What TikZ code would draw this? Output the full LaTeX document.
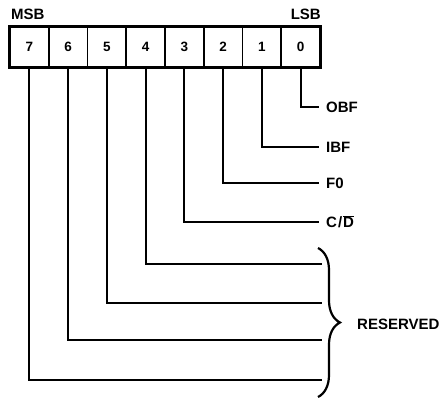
\documentclass[tikz,border=0pt]{standalone}
\usepackage{fontspec}
\setmainfont{Liberation Sans}
\usetikzlibrary{decorations.pathreplacing}
\begin{document}
\begin{tikzpicture}[x=1pt,y=-1pt,
  font=\bfseries\fontsize{15}{17}\selectfont,
  cell/.style={draw, line width=1.8pt, minimum width=38.75pt, minimum height=40pt, inner sep=0pt, anchor=center, font=\bfseries\fontsize{13.5}{15}\selectfont},
  conn/.style={line width=1.8pt},
  lab/.style={anchor=west, inner xsep=7pt, inner ysep=0pt, text height=11pt, text depth=0pt},
  hdr/.style={inner sep=0pt, text height=11pt, text depth=0pt}]
\useasboundingbox (0,0) rectangle (442,399);
\foreach \b in {0,...,7}
  \node[cell] (c\b) at ({10+(7-\b+0.5)*38.75},47) {\b};
\draw[line width=3pt] (c7.north west) rectangle (c0.south east);
\node[hdr, anchor=west] (msb) at (11,14) {MSB};
\node[hdr, anchor=east] (lsb) at (321,14) {LSB};
\node[lab] (obf) at (319,107) {OBF};
\node[lab] (ibf) at (319,147) {IBF};
\node[lab] (f0) at (319,183) {F0};
\node[lab] (cd) at (319,222) {C\kern1pt/\kern1pt$\overline{\hbox{D}}$};
\draw[conn] (c0.south) |- (obf.west);
\draw[conn] (c1.south) |- (ibf.west);
\draw[conn] (c2.south) |- (f0.west);
\draw[conn] (c3.south) |- (cd.west);
\coordinate (r4) at (322,264);
\coordinate (r5) at (322,303);
\coordinate (r6) at (322,340);
\coordinate (r7) at (322,380);
\draw[conn] (c4.south) |- (r4);
\draw[conn] (c5.south) |- (r5);
\draw[conn] (c6.south) |- (r6);
\draw[conn] (c7.south) |- (r7);
\coordinate (bt) at (318,248);
\coordinate (bb) at (318,397);
\draw[decorate, decoration={brace, amplitude=22pt}, line width=2.2pt] (bt) -- (bb);
\node[hdr, anchor=west] (res) at (357,324) {RESERVED};
\end{tikzpicture}
\end{document}
